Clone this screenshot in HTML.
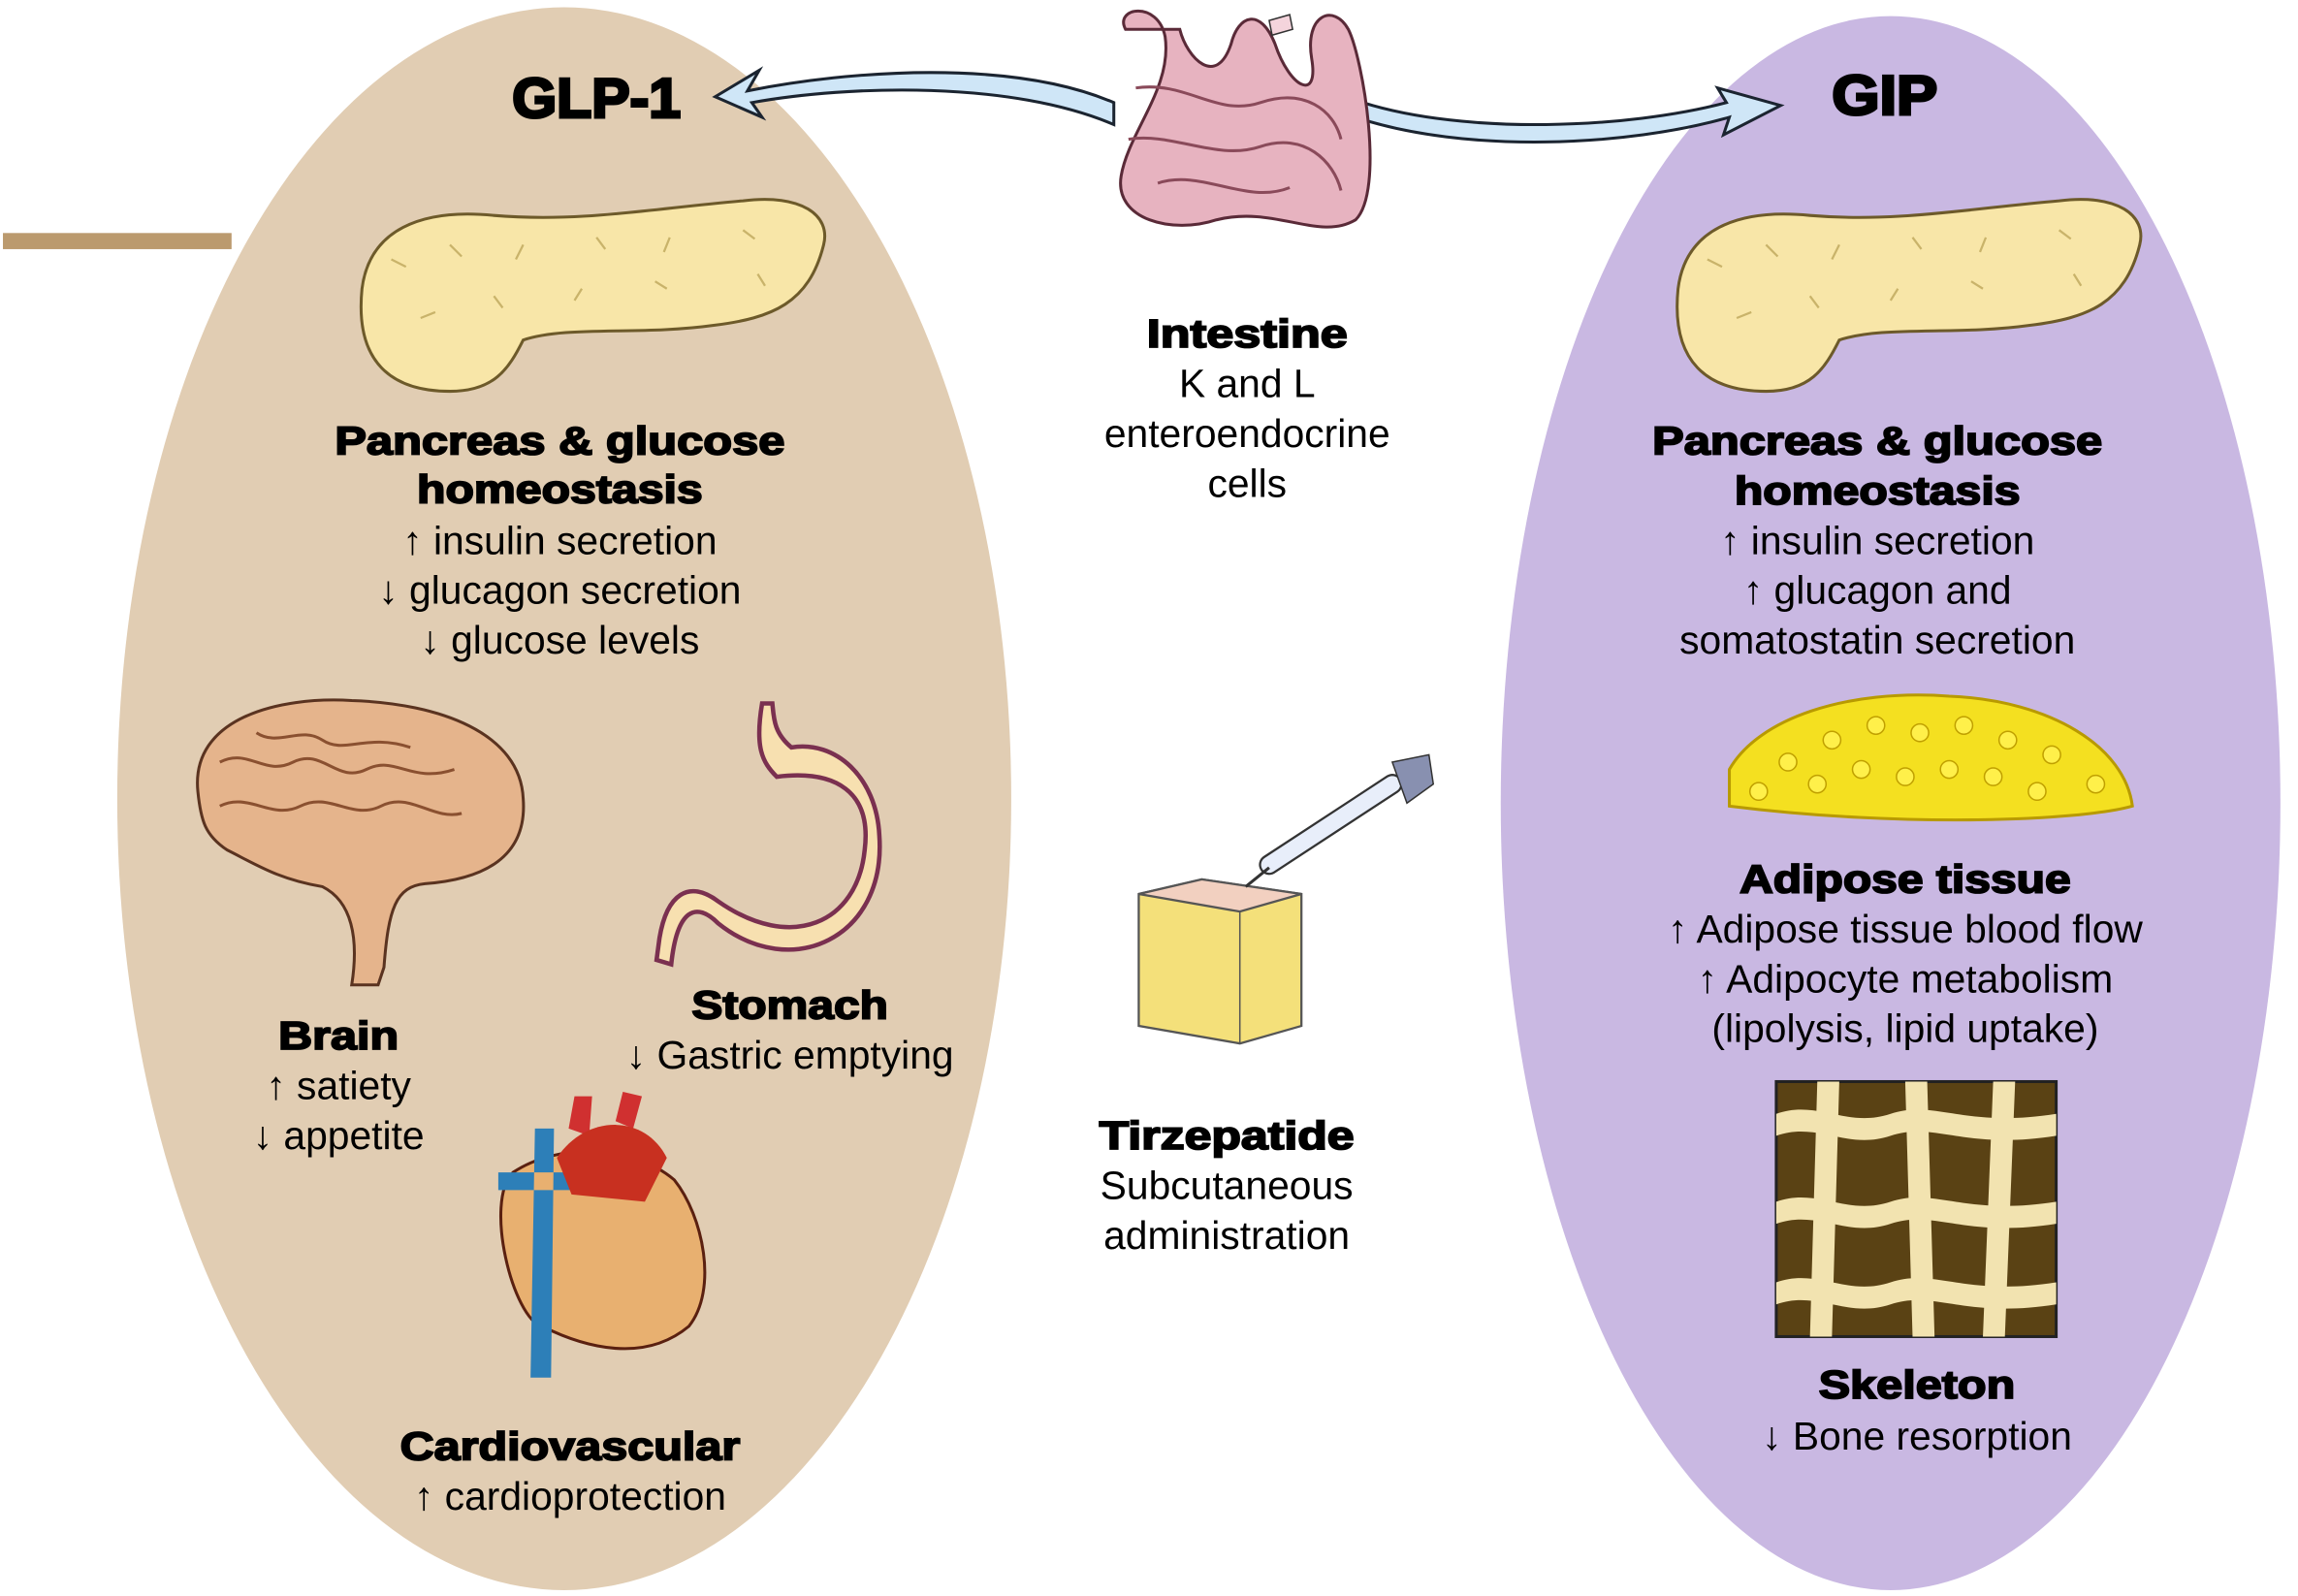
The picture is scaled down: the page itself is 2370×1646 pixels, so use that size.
<!DOCTYPE html>
<html><head><meta charset="utf-8"><style>
html,body{margin:0;padding:0;background:#fff;width:2370px;height:1646px;overflow:hidden}
svg{display:block}
text{font-family:"Liberation Sans",Arial,sans-serif;text-anchor:middle;fill:#000}
.b{font-weight:bold;font-size:27px;stroke:#000;stroke-width:1.2px}
.n{font-size:27px}
.t{font-weight:bold;font-size:38px;stroke:#000;stroke-width:2px}
</style></head><body>
<svg width="2370" height="1646" viewBox="0 0 1568 1089" preserveAspectRatio="none">
<defs>
<g id="panc">
<path d="M0,60 C5,20 40,5 90,10 C150,15 200,5 260,0 C300,-5 320,10 315,30 C305,70 280,80 240,85 C190,92 140,85 110,95 C100,115 90,130 60,130 C20,130 -5,110 0,60 Z" fill="#f8e6a8" stroke="#6d5a2a" stroke-width="2"/>
<path d="M20,40 l10,5 M60,30 l8,8 M110,30 l-5,10 M160,25 l6,8 M210,25 l-4,10 M260,20 l8,6 M40,80 l10,-4 M90,65 l6,8 M150,60 l-5,8 M200,55 l8,5 M270,50 l5,8" stroke="#c9b36a" stroke-width="1.5" fill="none"/>
</g>
</defs>
<rect x="2" y="159" width="156" height="11" fill="#bb9a6e"/>
<ellipse cx="385" cy="545" rx="305" ry="540" fill="#e1cdb3"/>
<ellipse cx="1290" cy="548" rx="266" ry="537" fill="#c9b8e2"/>
<!-- arrows -->
<path d="M760,70 C690,40 580,48 510,62 L518,48 L488,66 L520,80 L513,70 C580,58 690,55 760,85 Z" fill="#cfe6f7" stroke="#1b2430" stroke-width="2"/>
<path d="M925,80 C1000,105 1110,100 1180,80 L1176,92 L1215,72 L1172,60 L1178,70 C1110,88 1000,92 930,70 Z" fill="#cfe6f7" stroke="#1b2430" stroke-width="2"/>
<!-- intestine -->
<g stroke="#5a2a38" stroke-width="2" fill="#e7b3c0">
<path d="M768,20 C760,5 790,0 795,25 C800,60 770,90 765,120 C760,150 800,160 830,150 C870,140 900,165 925,150 C945,130 930,40 920,20 C910,2 890,10 895,40 C900,70 880,60 870,30 C860,5 845,10 840,30 C830,60 810,40 805,20 Z"/>
<path d="M775,60 C810,55 830,80 860,70 C890,60 910,75 915,95 M770,95 C800,90 830,110 860,100 C890,90 910,110 915,130 M790,125 C820,115 850,140 880,128" fill="none" stroke="#8a4a5a"/>
</g>
<path d="M866,14 l14,-4 l2,10 l-14,4 Z" fill="#f4d4dc" stroke="#333"/>
<use href="#panc" transform="translate(247,137)"/>
<use href="#panc" transform="translate(1145,137)"/>
<!-- brain -->
<path d="M135,540 C130,490 190,475 240,478 C300,480 355,500 357,545 C360,585 330,600 290,603 C270,605 265,620 262,660 L258,672 L240,672 C245,640 240,615 220,605 C190,600 175,590 155,580 C140,570 137,560 135,540 Z" fill="#e5b48c" stroke="#5a3320" stroke-width="2"/>
<path d="M150,520 c20,-10 30,10 50,0 c20,-10 30,15 50,5 c20,-10 30,10 60,0 M150,550 c20,-10 35,10 55,0 c20,-10 35,10 55,0 c20,-10 35,10 55,5 M175,500 c15,10 30,-5 45,5 c15,10 30,-5 60,5" fill="none" stroke="#8a5030" stroke-width="2"/>
<!-- stomach -->
<path d="M520,480 C515,510 520,520 530,530 C570,525 595,540 590,580 C585,630 540,650 490,615 C470,600 455,610 450,640 L448,655 L458,658 C462,620 475,615 490,630 C540,670 605,640 600,570 C598,530 570,505 540,510 C528,500 528,490 527,480 Z" fill="#f7e0b0" stroke="#7a3050" stroke-width="3"/>
<!-- heart -->
<path d="M350,800 C330,820 350,900 370,905 C400,920 440,930 470,905 C490,880 480,830 460,805 C430,780 380,780 350,800 Z" fill="#e8b070" stroke="#5a2010" stroke-width="2"/>
<path d="M388,770 L392,748 L404,748 L402,775 Z M420,765 L425,745 L438,748 L432,770 Z" fill="#d03030"/>
<path d="M365,770 L362,940 L376,940 L378,770 Z M340,800 L410,800 L410,812 L340,812 Z" fill="#2d7fb8"/>
<path d="M380,790 C400,760 440,760 455,790 L440,820 L390,815 Z" fill="#c83020"/>
<!-- syringe & skin -->
<path d="M777,610 L820,600 L888,610 L888,700 L846,712 L777,700 Z" fill="#f4e07a" stroke="#555" stroke-width="1.5"/>
<path d="M777,610 L820,600 L888,610 L846,622 Z" fill="#f2d0c0" stroke="#555" stroke-width="1.5"/>
<path d="M846,622 L846,712" stroke="#555"/>
<path d="M866,590 L950,535" stroke="#333" stroke-width="14" stroke-linecap="round"/>
<path d="M866,590 L950,535" stroke="#e8eefa" stroke-width="11" stroke-linecap="round"/>
<path d="M850,605 L866,592" stroke="#333" stroke-width="2"/>
<path d="M950,520 L975,515 L978,535 L960,548 Z" fill="#8890b0" stroke="#333"/>
<!-- adipose -->
<path d="M1180,525 C1200,490 1260,470 1330,475 C1400,478 1450,510 1455,550 C1420,560 1300,565 1180,550 Z" fill="#f4e020" stroke="#b89a00" stroke-width="2"/>
<g fill="#fff04a" stroke="#c0a000" stroke-width="1">
<circle cx="1220" cy="520" r="6"/><circle cx="1250" cy="505" r="6"/><circle cx="1280" cy="495" r="6"/><circle cx="1310" cy="500" r="6"/><circle cx="1340" cy="495" r="6"/><circle cx="1370" cy="505" r="6"/><circle cx="1400" cy="515" r="6"/><circle cx="1430" cy="535" r="6"/><circle cx="1240" cy="535" r="6"/><circle cx="1270" cy="525" r="6"/><circle cx="1300" cy="530" r="6"/><circle cx="1330" cy="525" r="6"/><circle cx="1360" cy="530" r="6"/><circle cx="1390" cy="540" r="6"/><circle cx="1200" cy="540" r="6"/>
</g>
<!-- bone -->
<rect x="1212" y="738" width="191" height="174" fill="#5a4214" stroke="#222" stroke-width="2"/>
<g fill="#f2e3b0">
<path d="M1212,760 C1240,750 1260,770 1290,760 C1320,750 1340,770 1403,760 L1403,775 C1340,785 1320,765 1290,775 C1260,785 1240,765 1212,775Z"/>
<path d="M1212,820 C1240,810 1260,830 1290,820 C1320,810 1340,830 1403,820 L1403,835 C1340,845 1320,825 1290,835 C1260,845 1240,825 1212,835Z"/>
<path d="M1212,875 C1240,865 1260,885 1290,875 C1320,865 1340,885 1403,875 L1403,890 C1340,900 1320,880 1290,890 C1260,900 1240,880 1212,890Z"/>
<path d="M1240,738 L1255,738 L1250,912 L1235,912Z M1300,738 L1315,738 L1320,912 L1305,912Z M1360,738 L1375,738 L1368,912 L1353,912Z"/>
</g>
<!-- text -->
<text x="407" y="80" class="t" textLength="115" lengthAdjust="spacingAndGlyphs">GLP-1</text>
<text x="1286" y="78" class="t" textLength="72" lengthAdjust="spacingAndGlyphs">GIP</text>
<text x="382" y="310" class="b" textLength="307" lengthAdjust="spacingAndGlyphs">Pancreas &amp; glucose</text>
<text x="382" y="343" class="b" textLength="195" lengthAdjust="spacingAndGlyphs">homeostasis</text>
<text x="382" y="378" class="n">↑ insulin secretion</text>
<text x="382" y="412" class="n">↓ glucagon secretion</text>
<text x="382" y="446" class="n">↓ glucose levels</text>
<text x="231" y="716" class="b" textLength="82" lengthAdjust="spacingAndGlyphs">Brain</text>
<text x="231" y="750" class="n">↑ satiety</text>
<text x="231" y="784" class="n">↓ appetite</text>
<text x="539" y="695" class="b" textLength="134" lengthAdjust="spacingAndGlyphs">Stomach</text>
<text x="539" y="729" class="n">↓ Gastric emptying</text>
<text x="389" y="996" class="b" textLength="232" lengthAdjust="spacingAndGlyphs">Cardiovascular</text>
<text x="389" y="1030" class="n">↑ cardioprotection</text>
<text x="851" y="237" class="b" textLength="137" lengthAdjust="spacingAndGlyphs">Intestine</text>
<text x="851" y="271" class="n">K and L</text>
<text x="851" y="305" class="n">enteroendocrine</text>
<text x="851" y="339" class="n">cells</text>
<text x="837" y="784" class="b" textLength="174" lengthAdjust="spacingAndGlyphs">Tirzepatide</text>
<text x="837" y="818" class="n">Subcutaneous</text>
<text x="837" y="852" class="n">administration</text>
<text x="1281" y="310" class="b" textLength="307" lengthAdjust="spacingAndGlyphs">Pancreas &amp; glucose</text>
<text x="1281" y="344" class="b" textLength="195" lengthAdjust="spacingAndGlyphs">homeostasis</text>
<text x="1281" y="378" class="n">↑ insulin secretion</text>
<text x="1281" y="412" class="n">↑ glucagon and</text>
<text x="1281" y="446" class="n">somatostatin secretion</text>
<text x="1300" y="609" class="b" textLength="226" lengthAdjust="spacingAndGlyphs">Adipose tissue</text>
<text x="1300" y="643" class="n">↑ Adipose tissue blood flow</text>
<text x="1300" y="677" class="n">↑ Adipocyte metabolism</text>
<text x="1300" y="711" class="n">(lipolysis, lipid uptake)</text>
<text x="1308" y="954" class="b" textLength="134" lengthAdjust="spacingAndGlyphs">Skeleton</text>
<text x="1308" y="989" class="n">↓ Bone resorption</text>
</svg>
</body></html>
